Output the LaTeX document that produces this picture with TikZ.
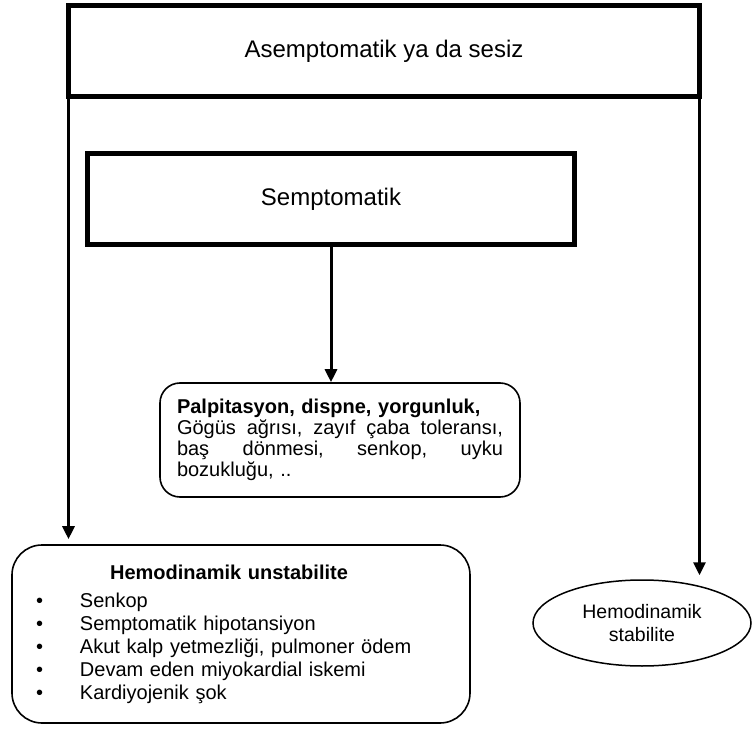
\documentclass[tikz,border=0pt]{standalone}
\usepackage{fontspec}
\setmainfont{Liberation Sans}
\usetikzlibrary{arrows.meta,shapes.geometric}

\begin{document}
\begin{tikzpicture}[x=1pt,y=-1pt,
    bigbox/.style={draw,line width=5pt,minimum width=#1,minimum height=91pt,inner sep=0pt,font=\fontsize{24}{28}\selectfont},
    roundbox/.style={draw,line width=1.6pt,rounded corners=#1},
    arrow/.style={-{Triangle[length=13pt,width=12pt]},line width=3pt}]
    \useasboundingbox (0,0) rectangle (753,730);

    % Draw the two main boxes
    \node[bigbox=631pt] (asym) at (384,51) {Asemptomatik ya da sesiz};
    \node[bigbox=487pt] (sym) at (331,199) {Semptomatik};

    % Symptoms box
    \node[roundbox=20pt,minimum width=360pt,minimum height=114pt,inner sep=0pt,
          text width=326pt,align=left,font=\fontsize{20}{21}\selectfont] (palp) at (340,440)
        {\textbf{Palpitasyon, dispne, yorgunluk,}\\
         \makebox[326pt][s]{Gögüs\hfill ağrısı,\hfill zayıf\hfill çaba\hfill toleransı,}\\
         \makebox[326pt][s]{baş\hfill dönmesi,\hfill senkop,\hfill uyku}\\
         bozukluğu, ..};

    % Unstable box
    \node[roundbox=30pt,minimum width=458pt,minimum height=178pt,inner xsep=24pt,inner ysep=0pt,
          text width=410pt,align=left,font=\fontsize{20}{23}\selectfont] (unstab) at (241,634)
        {\makebox[386pt]{\textbf{Hemodinamik unstabilite}}\\[5pt]
         \makebox[44pt][l]{\textbullet}Senkop\\
         \makebox[44pt][l]{\textbullet}Semptomatik hipotansiyon\\
         \makebox[44pt][l]{\textbullet}Akut kalp yetmezliği, pulmoner ödem\\
         \makebox[44pt][l]{\textbullet}Devam eden miyokardial iskemi\\
         \makebox[44pt][l]{\textbullet}Kardiyojenik şok};

    % Stable ellipse
    \node[ellipse,draw,line width=1.5pt,minimum width=218pt,minimum height=86pt,inner sep=0pt,
          align=center,font=\fontsize{19.5}{23}\selectfont] (stab) at (642,623) {Hemodinamik\\stabilite};

    % Arrows
    \coordinate (lstart) at ([xshift=2.5pt]asym.south west);
    \coordinate (rstart) at ([xshift=-2.5pt]asym.south east);
    \draw[arrow,shorten >=5pt] (lstart) -- (lstart |- unstab.north);
    \draw[arrow,shorten >=4pt] (rstart) -- (rstart |- stab.north);
    \draw[arrow] (sym.south) -- (sym.south |- palp.north);

\end{tikzpicture}
\end{document}
